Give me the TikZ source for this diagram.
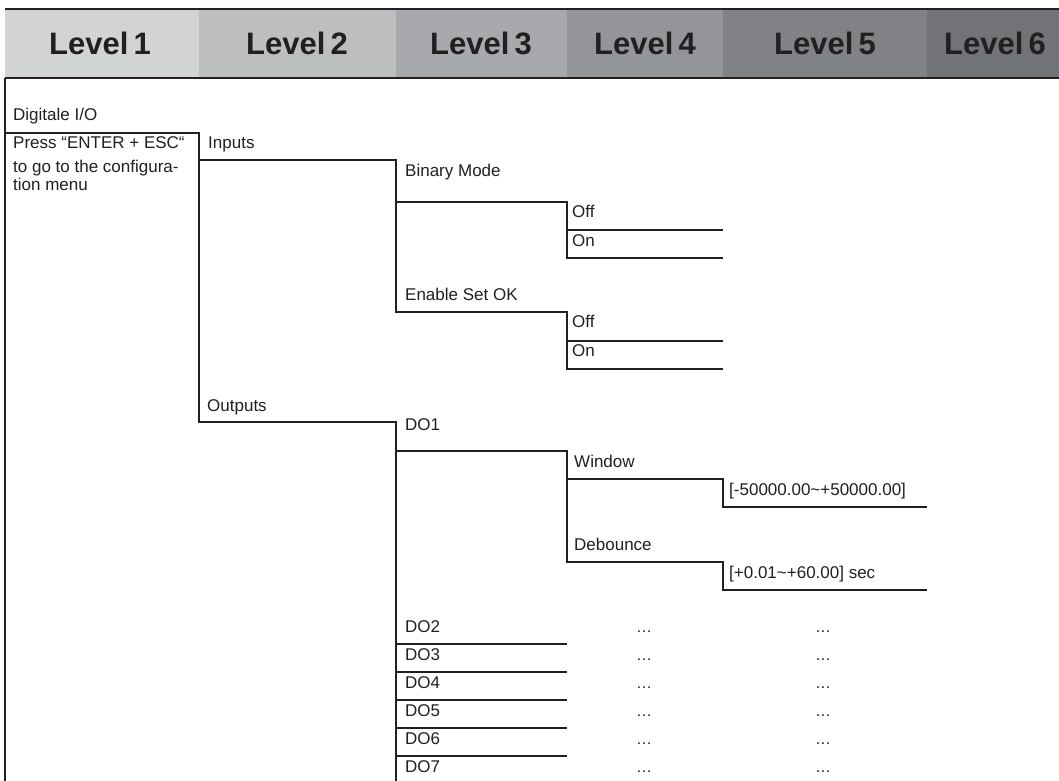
\documentclass[tikz,border=0pt]{standalone}
\usepackage{fontspec}
\setmainfont{Liberation Sans}
\definecolor{ink}{HTML}{231F20}
\definecolor{gA}{HTML}{D1D3D4}
\definecolor{gB}{HTML}{BCBEC0}
\definecolor{gC}{HTML}{A7A9AC}
\definecolor{gD}{HTML}{939598}
\definecolor{gE}{HTML}{808285}
\definecolor{gF}{HTML}{727376}
\begin{document}
\begin{tikzpicture}[x=1pt,y=-1pt,
  ln/.style={line width=1.8pt, draw=ink, line join=miter},
  txt/.style={anchor=base west, inner sep=0pt, text=ink, font=\fontsize{17}{17}\selectfont},
  hdr/.style={anchor=base, inner sep=0pt, text=ink, font=\fontsize{31}{31}\selectfont\bfseries},
  ell/.style={anchor=base, inner sep=0pt, text=ink, font=\fontsize{16}{16}\selectfont}]
\useasboundingbox (0,0) rectangle (1059,780);
\fill[white] (0,0) rectangle (1059,780);
% header band
\fill[gA] (5,9) rectangle (199,78);
\fill[gB] (199,9) rectangle (396,78);
\fill[gC] (396,9) rectangle (567,78);
\fill[gD] (567,9) rectangle (723,78);
\fill[gE] (723,9) rectangle (927,78);
\fill[gF] (927,9) rectangle (1059,78);
\draw[ln] (5,9) -- (1059,9);
\draw[ln] (5,78) -- (1059,78);
\node[hdr] (h1) at (100,54) {Level\,1};
\node[hdr] (h2) at (297,54) {Level\,2};
\node[hdr] (h3) at (481,54) {Level\,3};
\node[hdr] (h4) at (645,54) {Level\,4};
\node[hdr] (h5) at (825,54) {Level\,5};
\node[hdr] (h6) at (995,54) {Level\,6};
% tree lines
\draw[ln] (5,78) -- (5,781);
\draw[ln] (5,133) -- (199,133) -- (199,422) -- (396,422) -- (396,781);
\draw[ln] (199,160) -- (396,160) -- (396,312) -- (567,312) -- (567,369) -- (723,369);
\draw[ln] (396,202) -- (567,202) -- (567,258) -- (723,258);
\draw[ln] (567,230) -- (723,230);
\draw[ln] (567,341) -- (723,341);
\draw[ln] (396,451) -- (567,451) -- (567,562) -- (723,562) -- (723,590) -- (927,590);
\draw[ln] (567,479) -- (723,479) -- (723,507) -- (927,507);
\foreach \yy in {644,672,700,728,756} \draw[ln] (396,\yy) -- (567,\yy);
% texts
\node[txt] (dio) at (13,120) {Digitale I/O};
\node[txt] (press) at (13,148) {Press “ENTER + ESC“};
\node[txt] (goto) at (13,172) {to go to the configura-};
\node[txt] (menu) at (13,190) {tion menu};
\node[txt] (inp) at (208,148) {Inputs};
\node[txt] (outp) at (207,411) {Outputs};
\node[txt] (bin) at (405,176) {Binary Mode};
\node[txt] (off1) at (572,217) {Off};
\node[txt] (on1) at (572,246) {On};
\node[txt] (ens) at (405,300) {Enable Set OK};
\node[txt] (off2) at (572,327) {Off};
\node[txt] (on2) at (572,356) {On};
\node[txt] (do1) at (405,430) {DO1};
\node[txt] (win) at (574,467) {Window};
\node[txt] (wrange) at (729,495) {[-50000.00\textasciitilde+50000.00]};
\node[txt] (deb) at (574,550) {Debounce};
\node[txt] (drange) at (729,578) {[+0.01\textasciitilde+60.00] sec};
\foreach \i/\n in {0/2,1/3,2/4,3/5,4/6,5/7}{
  \node[txt] (do\n) at (405,632+28*\i) {DO\n};
  \node[ell] (da\n) at (644,632+28*\i) {…};
  \node[ell] (db\n) at (823,632+28*\i) {…};
}
\end{tikzpicture}
\end{document}
